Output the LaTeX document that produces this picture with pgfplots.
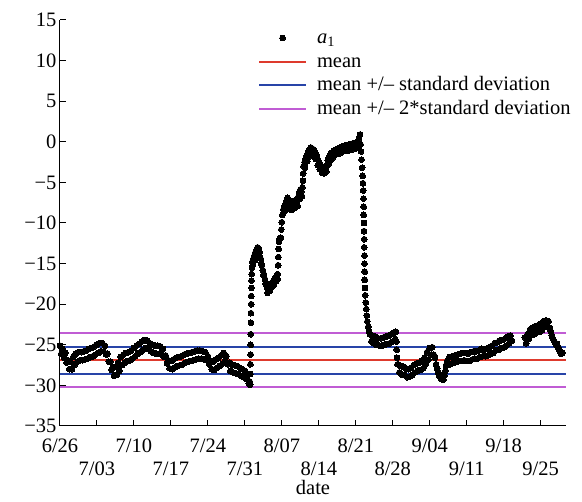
\documentclass[border=0pt]{standalone}
\usepackage{pgfplots}
\pgfplotsset{compat=1.18}
\usepackage{fontspec}
\setmainfont{Liberation Serif}
\definecolor{meanred}{RGB}{222,58,45}
\definecolor{sdblue}{RGB}{40,68,168}
\definecolor{sdpurple}{RGB}{192,92,212}
\newcommand{\chartfont}{\fontsize{20.5}{24}\selectfont}
\pgfplotsset{
  long line legend/.style={legend image code/.code={\draw[##1] (0pt,0pt) -- (47pt,0pt);}},
  dot legend/.style={legend image code/.code={\draw[##1] plot coordinates {(23.5pt,0pt)};}},
}
\begin{document}
\begin{tikzpicture}
\useasboundingbox (-60pt,-76pt) rectangle (522pt,426pt);
\begin{axis}[
  scale only axis, width=506pt, height=406pt,
  xmin=0, xmax=95.8, ymin=-35, ymax=15,
  axis x line*=bottom, axis y line*=left,
  axis line style={line width=1pt},
  major tick style={line width=1pt, black},
  major tick length=6pt,
  tick align=inside,
  unbounded coords=jump,
  xtick={0,14,28,42,56,70,84},
  xticklabels={6/26,7/10,7/24,8/07,8/21,9/04,9/18},
  extra x ticks={7,21,35,49,63,77,91},
  extra x tick labels={7/03,7/17,7/31,8/14,8/28,9/11,9/25},
  extra x tick style={xticklabel style={yshift=-23pt}},
  xticklabel style={yshift=-9pt},
  ytick={-35,-30,...,15},
  yticklabels={−35,−30,−25,−20,−15,−10,−5,0,5,10,15},
  tick label style={font=\chartfont},
  xlabel={date},
  xlabel style={font=\chartfont, at={(axis description cs:0.5,0)}, anchor=north, yshift=-51pt},
  legend cell align=left,
  legend style={draw=none, fill=none, at={(0.391,0.985)}, anchor=north west,
    font=\chartfont, inner sep=0pt, row sep=0pt,
    nodes={inner sep=1pt, text height=16.5pt, text depth=5pt},
    /tikz/every odd column/.append style={column sep=9pt}},
]
% hourly a1 readings, days counted from 6/26
\addplot[only marks, mark=*, mark size=2.9pt, mark options={fill=black, draw=black, line width=0pt},
  dot legend] coordinates {
(0.0,-25.1) (0.25,-26.1) (0.5,-25.5) (0.75,-26.6) (1.0,-26.0) (1.25,-27.2)
(1.5,-26.9) (1.75,-28.0) (2.0,-27.1) (2.25,-28.0) (2.5,-26.5) (2.75,-27.5)
(3.0,-26.1) (3.25,-27.1) (3.5,-25.9) (3.75,-26.9) (4.0,-25.9) (4.25,-26.9)
(4.5,-25.8) (4.75,-26.8) (5.0,-25.7) (5.25,-26.7) (5.5,-25.5) (5.75,-26.5)
(6.0,-25.4) (6.25,-26.4) (6.5,-25.2) (6.75,-26.2) (7.0,-25.0) (7.25,-26.0)
(7.5,-24.8) (7.75,-25.8) (8.0,-24.8) (8.25,-25.8) (8.5,-25.1) (8.75,-26.2)
(9.0,-26.1) (9.25,-27.1) (9.5,-27.1) (9.75,-28.1) (10.0,-27.8) (10.25,-28.8)
(10.5,-27.7) (10.75,-28.7) (11.0,-27.2) (11.25,-28.2) (11.5,-26.5) (11.75,-27.5)
(12.0,-26.2) (12.25,-27.2) (12.5,-26.0) (12.75,-27.0) (13.0,-25.9) (13.25,-26.9)
(13.5,-25.7) (13.75,-26.7) (14.0,-25.4) (14.25,-26.4) (14.5,-25.1) (14.75,-26.1)
(15.0,-24.9) (15.25,-25.9) (15.5,-24.6) (15.75,-25.6) (16.0,-24.4) (16.25,-25.4)
(16.5,-24.5) (16.75,-25.5) (17.0,-24.8) (17.25,-25.8) (17.5,-25.0) (17.75,-26.0)
(18.0,-25.1) (18.25,-26.1) (18.5,-25.1) (18.75,-26.1) (19.0,-25.2) (19.25,-26.2)
(19.5,-25.5) (19.75,-26.5) (20.0,-26.3) (20.25,-27.3) (20.5,-26.9) (20.75,-27.9)
(21.0,-27.0) (21.25,-28.0) (21.5,-26.8) (21.75,-27.8) (22.0,-26.6) (22.25,-27.6)
(22.5,-26.5) (22.75,-27.5) (23.0,-26.4) (23.25,-27.4) (23.5,-26.2) (23.75,-27.2)
(24.0,-26.1) (24.25,-27.1) (24.5,-26.0) (24.75,-27.0) (25.0,-25.9) (25.25,-26.9)
(25.5,-25.8) (25.75,-26.8) (26.0,-25.7) (26.25,-26.7) (26.5,-25.7) (26.75,-26.7)
(27.0,-25.8) (27.25,-26.8) (27.5,-25.9) (27.75,-26.9) (28.0,-26.4) (28.25,-27.4)
(28.5,-27.0) (28.75,-28.0) (29.0,-27.1) (29.25,-28.1) (29.5,-26.8) (29.75,-27.8)
(30.0,-26.6) (30.25,-27.6) (30.5,-26.3) (30.75,-27.3) (31.0,-26.0) (31.25,-27.0)
(31.5,-26.4) (31.75,-27.4) (32.0,-27.2) (32.25,-28.2) (32.5,-27.4) (32.75,-28.4)
(33.0,-27.5) (33.25,-28.5) (33.5,-27.6) (33.75,-28.6) (34.0,-27.8) (34.25,-28.8)
(34.5,-28.0) (34.75,-29.0) (35.0,-28.2) (35.25,-29.2) (35.5,-28.8) (35.75,-29.8)
(35.9,-29.5) (36.0,-29.9)
(36.05,-28.6) (36.05,-27.4) (36.1,-26.2) (36.1,-25.0) (36.1,-23.7) (36.15,-22.3)
(36.15,-21.1) (36.2,-20.0) (36.2,-19.0) (36.25,-18.0) (36.25,-17.1) (36.3,-16.3)
(36.35,-15.5) (36.4,-14.8) (36.6,-14.4) (36.8,-14.0) (37.0,-13.6) (37.2,-13.3)
(37.4,-13.0) (37.6,-13.1) (37.8,-13.6) (38.0,-14.4) (38.2,-15.2) (38.4,-15.8)
(38.6,-16.3) (38.8,-16.9) (39.0,-17.5) (39.2,-17.9) (39.4,-18.2) (39.6,-18.0)
(39.8,-17.7) (40.0,-17.5) (40.2,-17.3) (40.4,-17.1) (40.6,-16.9) (40.8,-16.7)
(41.0,-16.5) (41.2,-16.3)
(36.5,-15.2) (36.9,-14.6) (37.3,-13.9) (37.7,-14.0) (38.1,-15.0) (38.5,-16.4)
(38.9,-17.5) (39.3,-18.6) (39.7,-18.4) (40.1,-17.9) (40.5,-17.6) (40.9,-17.2)
(41.2,-16.9)
(41.3,-15.2) (41.35,-14.2) (41.4,-13.2) (41.45,-12.3) (41.6,-11.9) (41.8,-11.8)
(41.9,-10.8) (42.0,-9.9) (42.1,-9.0) (42.3,-8.3) (42.5,-7.9) (42.7,-7.6)
(42.9,-7.2) (43.1,-6.9) (43.3,-7.3) (43.5,-7.6) (43.7,-7.8) (43.9,-7.4)
(44.1,-7.7) (44.3,-7.3) (44.5,-7.5) (44.7,-7.1) (44.9,-7.3) (45.1,-6.8)
(45.3,-6.2) (45.5,-5.9) (45.7,-6.1) (45.9,-5.6) (46.0,-4.8) (46.05,-3.9)
(46.1,-3.0) (46.3,-2.5) (46.5,-2.1) (46.7,-1.7) (46.9,-1.4) (47.1,-1.1)
(47.3,-0.9) (47.5,-0.7) (47.7,-0.8) (47.9,-0.9) (48.1,-1.1) (48.3,-1.3)
(48.5,-1.6) (48.7,-2.0) (48.9,-2.3) (49.1,-2.6) (49.3,-2.8) (49.5,-3.0)
(49.7,-3.2) (49.9,-3.3) (50.1,-3.1) (50.3,-3.3) (50.5,-2.9) (50.7,-2.3)
(50.9,-1.9) (51.1,-1.7) (51.3,-1.5) (51.5,-1.3) (51.8,-1.1) (52.1,-1.0)
(52.4,-0.9) (52.7,-0.8) (53.0,-0.7) (53.3,-0.6) (53.6,-0.6) (53.9,-0.5)
(54.2,-0.4) (54.5,-0.5) (54.8,-0.3) (55.1,-0.4) (55.4,-0.2) (55.7,-0.3)
(56.0,-0.1) (56.3,0.0) (56.6,0.4) (56.8,0.9)
(42.6,-8.5) (43.0,-7.9) (43.4,-8.2) (43.8,-8.4) (44.2,-8.2) (44.6,-8.1)
(45.0,-7.9) (45.4,-7.0) (45.8,-6.7) (46.4,-3.2) (46.8,-2.4) (47.2,-1.8)
(47.6,-1.5) (48.0,-1.7) (48.4,-2.1) (48.8,-2.9) (49.2,-3.4) (49.6,-3.8)
(50.0,-3.9) (50.4,-3.7) (50.8,-2.8) (51.2,-2.3) (51.6,-2.0) (52.0,-1.7)
(52.5,-1.5) (53.0,-1.4) (53.5,-1.2) (54.0,-1.1) (54.5,-1.1) (55.0,-1.0)
(55.5,-0.9) (56.0,-0.8) (56.5,-0.6)
(56.9,-0.3) (57.0,-1.2) (57.1,-2.2) (57.2,-3.2) (57.3,-4.2) (57.35,-5.1)
(57.4,-6.0) (57.45,-7.0) (57.5,-8.0) (57.5,-9.0) (57.55,-10.0) (57.55,-11.0)
(57.6,-12.0) (57.6,-13.0) (57.65,-14.0) (57.65,-15.0) (57.7,-16.0) (57.7,-17.0)
(57.75,-18.0) (57.8,-18.9) (57.9,-19.8) (58.0,-20.6) (58.1,-21.4) (58.2,-22.1)
(58.35,-22.8) (58.5,-23.4)
(58.7,-23.7) (58.95,-24.6) (59.2,-23.9) (59.45,-24.8) (59.7,-24.0) (59.95,-25.0)
(60.2,-24.2) (60.45,-25.1) (60.7,-24.2) (60.95,-25.1) (61.2,-24.1) (61.45,-25.0)
(61.7,-24.0) (61.95,-24.9) (62.2,-23.9) (62.45,-24.8) (62.7,-23.7) (62.95,-24.6)
(63.2,-23.5) (63.45,-24.3) (63.6,-23.4)
(63.7,-24.6) (63.75,-25.6) (63.8,-26.6) (63.9,-27.4)
(64.0,-27.4) (64.25,-28.4) (64.5,-27.6) (64.75,-28.7) (65.0,-27.7) (65.25,-28.7)
(65.5,-27.9) (65.75,-29.0) (66.0,-28.0) (66.25,-28.9) (66.5,-27.8) (66.75,-28.7)
(67.0,-27.5) (67.25,-28.4) (67.5,-27.3) (67.75,-28.2) (68.0,-27.2) (68.25,-28.1)
(68.5,-27.0) (68.75,-27.9) (69.0,-26.6) (69.25,-27.4) (69.5,-25.9) (69.75,-26.8)
(70.0,-25.4) (70.25,-26.2) (70.5,-25.3) (70.75,-26.2) (71.0,-26.6) (71.2,-27.4)
(71.4,-27.9) (71.6,-28.4) (71.8,-28.8) (72.0,-28.7) (72.2,-29.2) (72.4,-28.9)
(72.6,-29.3) (72.8,-28.8) (73.0,-28.2) (73.1,-27.5) (73.3,-27.0) (73.55,-27.5)
(73.8,-26.5) (74.05,-27.3) (74.3,-26.4) (74.55,-27.2) (74.8,-26.3) (75.05,-27.1)
(75.3,-26.2) (75.55,-27.0) (75.8,-26.1) (76.05,-27.0) (76.3,-26.0) (76.55,-26.9)
(76.8,-26.0) (77.05,-27.0) (77.3,-26.1) (77.55,-27.0) (77.8,-25.9) (78.05,-26.8)
(78.3,-25.8) (78.55,-26.7) (78.8,-25.8) (79.05,-26.7) (79.3,-25.7) (79.55,-26.5)
(79.8,-25.5) (80.05,-26.4) (80.3,-25.6) (80.55,-26.4) (80.8,-25.5) (81.05,-26.3)
(81.3,-25.3) (81.55,-26.1) (81.8,-25.1) (82.05,-26.0) (82.3,-24.8) (82.55,-25.7)
(82.8,-24.7) (83.05,-25.6) (83.3,-24.5) (83.55,-25.4) (83.8,-24.4) (84.05,-25.3)
(84.3,-24.2) (84.55,-25.1) (84.8,-24.0) (85.05,-24.8) (85.3,-23.9) (85.55,-24.5)
(88.0,-24.1) (88.25,-24.8) (88.5,-23.7) (88.75,-24.3) (89.0,-23.1) (89.25,-23.8)
(89.5,-22.9) (89.75,-23.7) (90.0,-22.7) (90.25,-23.5) (90.5,-22.6) (90.75,-23.4)
(91.0,-22.4) (91.25,-23.2) (91.5,-22.1) (91.75,-22.8) (92.0,-22.0) (92.25,-22.7)
(92.5,-22.1) (92.75,-22.9) (92.9,-23.3) (93.1,-23.8) (93.3,-24.2) (93.5,-24.5)
(93.7,-24.7) (93.9,-25.0) (94.1,-24.9) (94.3,-25.3) (94.5,-25.6) (94.7,-25.9)
(94.9,-26.1) (95.1,-26.0)
};
\addlegendentry{\textit{a}\textsubscript{1}}
% mean = -26.9, standard deviation = 1.65
\addplot[draw=meanred, line width=2pt, long line legend] coordinates {(0,-26.9) (95.8,-26.9)};
\addlegendentry{mean}
\addplot[draw=sdblue, line width=2pt, long line legend] coordinates {
  (0,-25.25) (95.8,-25.25) (95.8,nan) (0,-28.55) (95.8,-28.55)};
\addlegendentry{mean +/– standard deviation}
\addplot[draw=sdpurple, line width=2pt, long line legend] coordinates {
  (0,-23.6) (95.8,-23.6) (95.8,nan) (0,-30.2) (95.8,-30.2)};
\addlegendentry{mean +/– 2*standard deviation}
\end{axis}
\end{tikzpicture}
\end{document}
